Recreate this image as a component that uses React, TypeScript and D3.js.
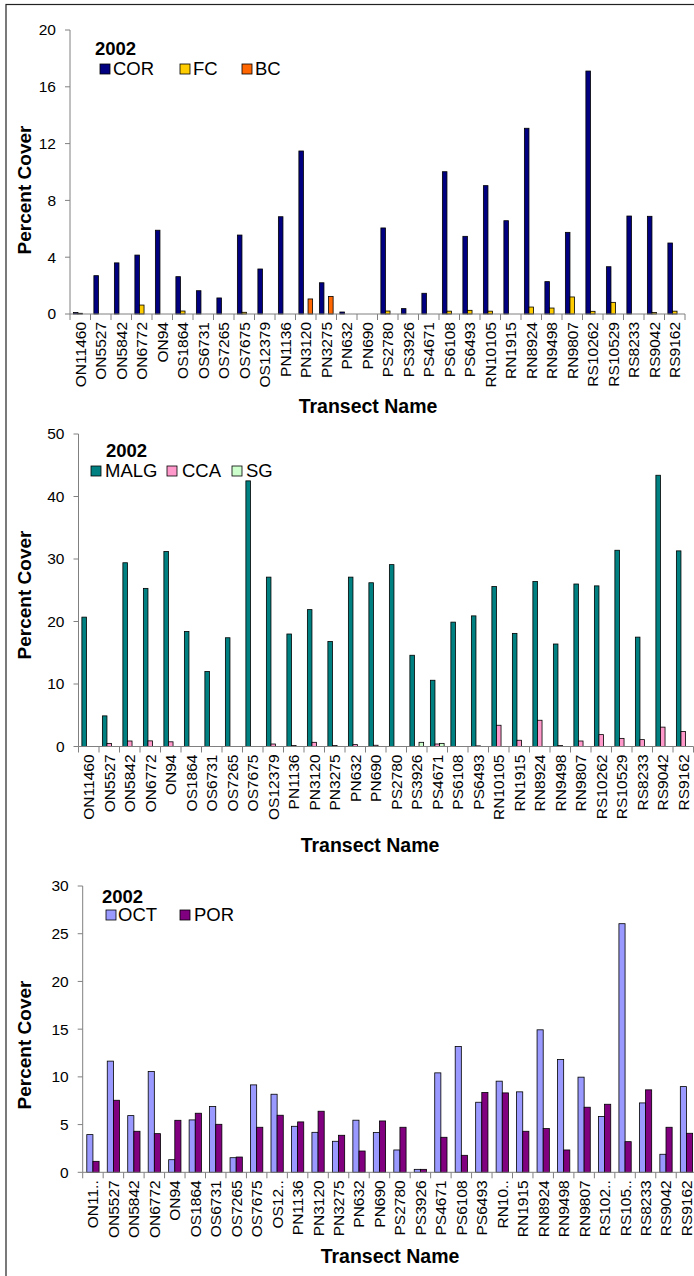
import { useEffect } from 'react'
import * as d3 from 'd3'

const transects = ['ON11460', 'ON5527', 'ON5842', 'ON6772', 'ON94', 'OS1864', 'OS6731', 'OS7265', 'OS7675', 'OS12379',
  'PN1136', 'PN3120', 'PN3275', 'PN632', 'PN690', 'PS2780', 'PS3926', 'PS4671', 'PS6108', 'PS6493',
  'RN10105', 'RN1915', 'RN8924', 'RN9498', 'RN9807', 'RS10262', 'RS10529', 'RS8233', 'RS9042', 'RS9162']
// bottom chart shows some names cut short
const transectsShort = ['ON11..', 'ON5527', 'ON5842', 'ON6772', 'ON94', 'OS1864', 'OS6731', 'OS7265', 'OS7675', 'OS12..',
  'PN1136', 'PN3120', 'PN3275', 'PN632', 'PN690', 'PS2780', 'PS3926', 'PS4671', 'PS6108', 'PS6493',
  'RN10..', 'RN1915', 'RN8924', 'RN9498', 'RN9807', 'RS102..', 'RS105..', 'RS8233', 'RS9042', 'RS9162']

const cor = [0.1, 2.7, 3.6, 4.15, 5.9, 2.63, 1.64, 1.13, 5.56, 3.17, 6.85, 11.48, 2.2, 0.14, 0,
  6.06, 0.38, 1.46, 10.02, 5.47, 9.04, 6.57, 13.08, 2.28, 5.75, 17.11, 3.33, 6.9, 6.88, 5.0]
const fc = [0.05, 0, 0, 0.63, 0, 0.21, 0, 0, 0.12, 0, 0, 0, 0, 0, 0,
  0.21, 0, 0, 0.2, 0.26, 0.2, 0, 0.49, 0.42, 1.2, 0.19, 0.82, 0, 0.1, 0.2]
const bc = [0, 0, 0, 0, 0, 0, 0, 0, 0, 0, 0, 1.06, 1.24, 0, 0,
  0, 0, 0, 0, 0, 0, 0, 0, 0, 0, 0, 0, 0, 0, 0]

const malg = [20.7, 4.9, 29.4, 25.3, 31.2, 18.4, 12.0, 17.4, 42.5, 27.1, 18.0, 21.9, 16.8, 27.1, 26.2,
  29.1, 14.6, 10.6, 19.9, 20.9, 25.6, 18.1, 26.4, 16.4, 26.0, 25.7, 31.4, 17.5, 43.4, 31.3]
const cca = [0, 0.5, 0.88, 0.9, 0.75, 0, 0, 0, 0, 0.4, 0.15, 0.67, 0.15, 0.3, 0.2,
  0, 0, 0.4, 0, 0.1, 3.4, 1.0, 4.2, 0.15, 0.88, 1.9, 1.3, 1.1, 3.1, 2.4]
const sg = [0, 0, 0, 0, 0, 0, 0, 0, 0, 0, 0, 0, 0, 0, 0,
  0, 0.67, 0.5, 0, 0, 0, 0, 0, 0, 0, 0, 0, 0, 0, 0]

const oct = [3.95, 11.65, 5.94, 10.56, 1.32, 5.49, 6.89, 1.53, 9.16, 8.18, 4.82, 4.19, 3.25, 5.46, 4.16,
  2.34, 0.31, 10.42, 13.18, 7.34, 9.55, 8.43, 14.93, 11.82, 9.97, 5.84, 26.05, 7.27, 1.89, 8.98]
const por = [1.15, 7.55, 4.3, 4.05, 5.45, 6.19, 5.03, 1.6, 4.72, 5.98, 5.28, 6.4, 3.88, 2.23, 5.38,
  4.72, 0.31, 3.67, 1.78, 8.36, 8.32, 4.3, 4.58, 2.34, 6.82, 7.13, 3.21, 8.64, 4.72, 4.09]

const FONT = '"Liberation Sans", Arial, sans-serif'

interface Series { name: string; color: string; values: number[]; legendX: number; textX: number }

interface PanelProps {
  names: string[]
  series: Series[]
  x0: number
  x1: number
  y0: number
  yTop: number
  max: number
  step: number
  groupFrac: number
  yearX: number
  yearY: number
  legendY: number
  titleY: number
  xTitleX: number
  xTitleY: number
}

function Panel(p: PanelProps) {
  const x = d3.scaleBand().domain(p.names).range([p.x0, p.x1])
  const bw = x.bandwidth()
  const gw = bw * p.groupFrac
  const xs = d3.scaleBand().domain(p.series.map(s => s.name)).range([(bw - gw) / 2, (bw + gw) / 2])
  const y = d3.scaleLinear().domain([0, p.max]).range([p.y0, p.yTop])
  const ticks = d3.range(0, p.max + 0.001, p.step)

  return (
    <g fontFamily={FONT}>
      {/* bars */}
      {p.series.map(s => (
        <g key={s.name}>
          {s.values.map((v, i) => v > 0 ? (
            <rect key={i} x={x(p.names[i])! + xs(s.name)!} y={y(v)} width={xs.bandwidth()}
              height={p.y0 - y(v)} fill={s.color} stroke="#000" strokeWidth={0.8} />
          ) : null)}
        </g>
      ))}
      {/* y axis */}
      <line x1={p.x0} x2={p.x0} y1={p.yTop} y2={p.y0} stroke="#808080" />
      {ticks.map(t => (
        <g key={t}>
          <line x1={p.x0 - 5} x2={p.x0} y1={y(t)} y2={y(t)} stroke="#808080" />
          <text x={p.x0 - 14} y={y(t)} dy="0.35em" textAnchor="end" fontSize={15.5}>{t}</text>
        </g>
      ))}
      {/* x axis */}
      <line x1={p.x0} x2={p.x1} y1={p.y0} y2={p.y0} stroke="#808080" />
      {p.names.map((n, i) => (
        <line key={'t' + i} x1={x(n)!} x2={x(n)!} y1={p.y0} y2={p.y0 + 6} stroke="#808080" />
      ))}
      <line x1={p.x1} x2={p.x1} y1={p.y0} y2={p.y0 + 6} stroke="#808080" />
      {p.names.map(n => (
        <text key={n} transform={`translate(${x(n)! + bw / 2},${p.y0 + 8}) rotate(-90)`}
          dy="0.35em" textAnchor="end" fontSize={15.5}>{n}</text>
      ))}
      {/* titles */}
      <text transform={`translate(31,${p.titleY}) rotate(-90)`} textAnchor="middle" fontSize={19} fontWeight="bold">Percent Cover</text>
      <text x={p.xTitleX} y={p.xTitleY} textAnchor="middle" fontSize={19.5} fontWeight="bold">Transect Name</text>
      {/* legend */}
      <text x={p.yearX} y={p.yearY} fontSize={18.5} fontWeight="bold">2002</text>
      {p.series.map(s => (
        <g key={'l' + s.name}>
          <rect x={s.legendX} y={p.legendY} width={10} height={10} fill={s.color} stroke="#000" strokeWidth={0.8} />
          <text x={s.textX} y={p.legendY + 11} fontSize={18.5}>{s.name}</text>
        </g>
      ))}
    </g>
  )
}

export default function App() {
  useEffect(() => {
    document.body.style.margin = '0'
  }, [])

  return (
    <svg width={694} height={1276} style={{ display: 'block', background: '#fff' }}>
      <rect x={6} y={4.5} width={700} height={1280} fill="none" stroke="#222" strokeWidth={1.2} />
      <Panel names={transects} x0={70} x1={685} y0={314} yTop={30} max={20} step={4} groupFrac={0.67}
        series={[
          { name: 'COR', color: '#000080', values: cor, legendX: 100, textX: 113 },
          { name: 'FC', color: '#FFCC00', values: fc, legendX: 180, textX: 193 },
          { name: 'BC', color: '#FF6600', values: bc, legendX: 242, textX: 255 },
        ]}
        yearX={95} yearY={55} legendY={64} titleY={190} xTitleX={368} xTitleY={413} />
      <Panel names={transects} x0={78.5} x1={693.5} y0={746.5} yTop={434} max={50} step={10} groupFrac={0.67}
        series={[
          { name: 'MALG', color: '#008080', values: malg, legendX: 91, textX: 105 },
          { name: 'CCA', color: '#FF99CC', values: cca, legendX: 167, textX: 182 },
          { name: 'SG', color: '#CCFFCC', values: sg, legendX: 232, textX: 246 },
        ]}
        yearX={106} yearY={457} legendY={466} titleY={595} xTitleX={370} xTitleY={852} />
      <Panel names={transectsShort} x0={82.7} x1={696.7} y0={1172.3} yTop={886} max={30} step={5} groupFrac={0.6}
        series={[
          { name: 'OCT', color: '#9999FF', values: oct, legendX: 106, textX: 118 },
          { name: 'POR', color: '#800080', values: por, legendX: 180, textX: 194 },
        ]}
        yearX={102} yearY={903} legendY={910} titleY={1045} xTitleX={390} xTitleY={1263} />
    </svg>
  )
}
